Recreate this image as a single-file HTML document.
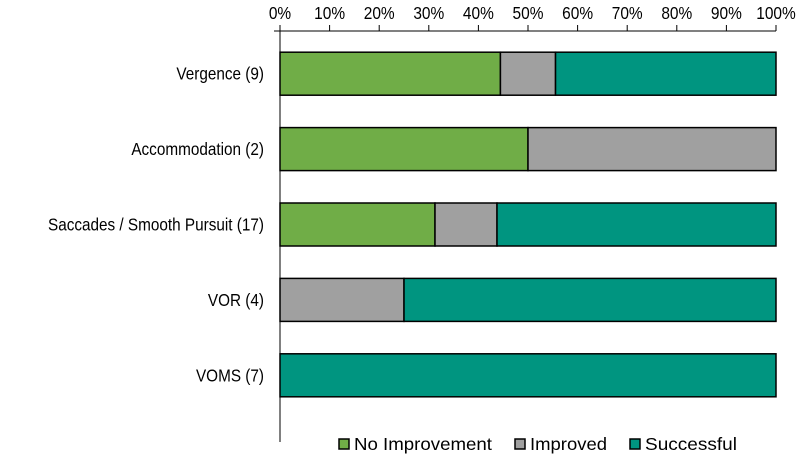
<!DOCTYPE html>
<html><head><meta charset="utf-8"><style>
body{margin:0;background:#fff;}
svg text{font-family:"Liberation Sans",Arial,sans-serif;fill:#000;}
</style></head><body>
<svg id="chart" width="800" height="455" viewBox="0 0 800 455"></svg>
<script>
const categories=["Vergence (9)","Accommodation (2)","Saccades / Smooth Pursuit (17)","VOR (4)","VOMS (7)"];
const noImprovement=[44.44,50,31.25,0,0];
const improved=[11.11,50,12.5,25,0];
const successful=[44.45,0,56.25,75,100];
const tickLabels=["0%","10%","20%","30%","40%","50%","60%","70%","80%","90%","100%"];
const ticks=[0,10,20,30,40,50,60,70,80,90,100];
const seriesNames=["No Improvement","Improved","Successful"];
const colors=["#70AD47","#A0A0A0","#009580"];
const NS="http://www.w3.org/2000/svg";
const svg=document.getElementById('chart');
const x0=280,x1=776,axisY=31;
const xs=v=>x0+(x1-x0)*v/100;
const bandTop=36,band=75.4,barH=43;
const yb=i=>bandTop+band*i+(band-barH)/2;
function mk(t,a){const e=document.createElementNS(NS,t);for(const k in a)e.setAttribute(k,a[k]);svg.appendChild(e);return e;}
function tall(el,w){el.setAttribute('font-size',17.5);el.setAttribute('textLength',w);el.setAttribute('lengthAdjust','spacingAndGlyphs');}
let e=mk('line',{x1:274,y1:axisY,x2:x1,y2:axisY,stroke:'#000','stroke-width':1});


e=mk('line',{x1:x0,y1:axisY,x2:x0,y2:442,stroke:'#000','stroke-width':1});


ticks.forEach((t,i)=>{
 let l=mk('line',{x1:xs(t),y1:25,x2:xs(t),y2:axisY,stroke:'#000'});
 
 
 let tx=mk('text',{x:xs(t),y:19,'text-anchor':'middle','font-size':15});
 tx.textContent=tickLabels[i];
 
 
 tall(tx,tx.getComputedTextLength()*1.03);
});
const series=[noImprovement,improved,successful];
categories.forEach((c,i)=>{
 let acc=0;
 series.forEach((s,j)=>{
  const v=s[i]; if(v<=0)return;
  let r=mk('rect',{x:xs(acc),y:yb(i),width:xs(acc+v)-xs(acc),height:barH,fill:colors[j],stroke:'#000','stroke-width':1.5});
  
  
  acc+=v;
 });
 let t=mk('text',{x:264,y:yb(i)+barH/2+6,'text-anchor':'end','font-size':15});
 t.textContent=c;
 
 
 tall(t,t.getComputedTextLength()*1.02);
});
const lx=[339,515,630];
const lw=[138,77,92];
seriesNames.forEach((n,j)=>{
 let r=mk('rect',{x:lx[j],y:439,width:10,height:10,fill:colors[j],stroke:'#000','stroke-width':1.5});
 
 
 let t=mk('text',{x:lx[j]+15,y:450,'font-size':15});
 t.textContent=n;
 
 
 tall(t,lw[j]);
});
</script>
</body></html>
